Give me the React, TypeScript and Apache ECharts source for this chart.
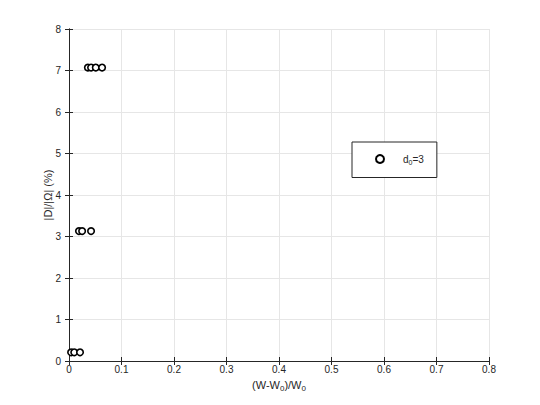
import React, { useEffect, useRef } from "react";
import * as echarts from "echarts";

const xTicks = [0, 0.1, 0.2, 0.3, 0.4, 0.5, 0.6, 0.7, 0.8];
const yTicks = [0, 1, 2, 3, 4, 5, 6, 7, 8];
const xValues = [0.036, 0.042, 0.051, 0.063, 0.019, 0.025, 0.042, 0.004, 0.01, 0.021];
const yValues = [7.07, 7.07, 7.07, 7.07, 3.13, 3.13, 3.13, 0.21, 0.21, 0.21];
const seriesName = "d0=3";

export default function App() {
  const ref = useRef<HTMLDivElement>(null);
  useEffect(() => {
    if (!ref.current) return;
    const chart = echarts.init(ref.current, undefined, { renderer: "svg" });
    const font = "Liberation Sans";
    const axisCommon = {
      axisLine: { show: true, lineStyle: { color: "#262626", width: 1 } },
      axisTick: { show: true, inside: true, length: 4, lineStyle: { color: "#262626" } },
      axisLabel: { color: "#262626", fontSize: 10, fontFamily: font },
      splitLine: { show: true, lineStyle: { color: "#e6e6e6", width: 1 } },
    };
    chart.setOption({
      animation: false,
      backgroundColor: "#ffffff",
      grid: { left: 69, right: 51, top: 29, bottom: 44 },
      xAxis: [
        {
          type: "value",
          min: xTicks[0],
          max: xTicks[xTicks.length - 1],
          interval: 0.1,
          position: "bottom",
          ...axisCommon,
          axisLabel: {
            ...axisCommon.axisLabel,
            margin: 3,
            formatter: (v: number) => (v === 0 ? "0" : String(Math.round(v * 10) / 10)),
          },
          name: "{a|(W-W}{s|0}{a|)/W}{s|0}",
          nameLocation: "middle",
          nameGap: 16,
          nameMoveOverlap: false,
          nameTextStyle: {
            rich: {
              a: { fontSize: 11, color: "#262626", fontFamily: font },
              s: { fontSize: 8, color: "#262626", fontFamily: font, padding: [7, 0, 0, 0] },
            },
          },
        },
        {
          type: "value",
          min: xTicks[0],
          max: xTicks[xTicks.length - 1],
          interval: 0.1,
          position: "top",
          ...axisCommon,
          axisLabel: { show: false },
          splitLine: { show: false },
        },
      ],
      yAxis: [
        {
          type: "value",
          min: yTicks[0],
          max: yTicks[yTicks.length - 1],
          interval: 1,
          position: "left",
          ...axisCommon,
          axisLabel: { ...axisCommon.axisLabel, margin: 8 },
          name: "|D|/|Ω| (%)",
          nameLocation: "middle",
          nameGap: 16,
          nameMoveOverlap: false,
          nameTextStyle: { fontSize: 11, color: "#262626", fontFamily: font },
        },
        {
          type: "value",
          min: yTicks[0],
          max: yTicks[yTicks.length - 1],
          interval: 1,
          position: "right",
          ...axisCommon,
          axisLabel: { show: false },
          splitLine: { show: false },
        },
      ],
      legend: {
        show: true,
        left: 352,
        top: 142,
        orient: "vertical",
        borderColor: "#262626",
        borderWidth: 1,
        backgroundColor: "#ffffff",
        padding: [12, 13, 12, 23],
        itemWidth: 8,
        itemHeight: 8,
        itemGap: 10,
        formatter: () => "{a|d}{s|0}{a|=3}",
        textStyle: {
          rich: {
            a: { fontSize: 10, color: "#262626", fontFamily: font },
            s: { fontSize: 7, color: "#262626", fontFamily: font, padding: [6, 0, 0, 0] },
          },
          padding: [0, 0, 0, 14],
        },
        data: [{ name: seriesName, icon: "circle" }],
      },
      series: [
        {
          name: seriesName,
          type: "scatter",
          xAxisIndex: 0,
          yAxisIndex: 0,
          symbol: "circle",
          symbolSize: 6.5,
          itemStyle: { color: "#ffffff", borderColor: "#000000", borderWidth: 1.6, opacity: 1 },
          data: xValues.map((x, i) => [x, yValues[i]]),
        },
      ],
    });
    return () => chart.dispose();
  }, []);
  return <div ref={ref} style={{ width: 540, height: 405, position: "absolute", left: 0, top: 0 }} />;
}
